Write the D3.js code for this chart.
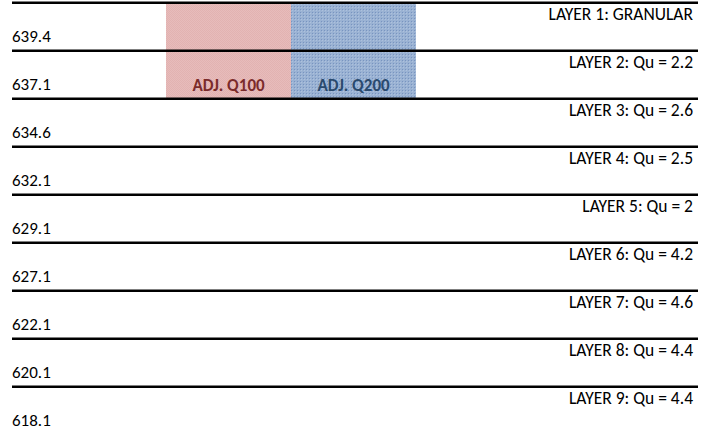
<!DOCTYPE html>
<html><head><meta charset="utf-8">
<script src="https://cdn.jsdelivr.net/npm/d3@7"></script>
<style>
html,body{margin:0;padding:0;background:#fff;}
text{font-family:Carlito, Calibri, Lato, sans-serif;}
</style></head>
<body><svg id="c" width="712" height="432"></svg>
<script>
const layers = ["LAYER 1","LAYER 2","LAYER 3","LAYER 4","LAYER 5","LAYER 6","LAYER 7","LAYER 8","LAYER 9"];
const layerLabels = ["LAYER 1: GRANULAR","LAYER 2: Qu = 2.2","LAYER 3: Qu = 2.6","LAYER 4: Qu = 2.5","LAYER 5: Qu = 2","LAYER 6: Qu = 4.2","LAYER 7: Qu = 4.6","LAYER 8: Qu = 4.4","LAYER 9: Qu = 4.4"];
const bottomElevations = [639.4, 637.1, 634.6, 632.1, 629.1, 627.1, 622.1, 620.1, 618.1];
const seriesNames = ["ADJ. Q100","ADJ. Q200"];
const seriesTopLayer = ["LAYER 1","LAYER 1"];
const seriesBottomLayer = ["LAYER 2","LAYER 2"];

const svg = d3.select("#c");
const defs = svg.append("defs");
const pp = defs.append("pattern").attr("id","pinkPat").attr("width",2).attr("height",2).attr("patternUnits","userSpaceOnUse");
pp.append("rect").attr("width",2).attr("height",2).attr("fill","#e7bcbb");
pp.append("rect").attr("width",1).attr("height",1).attr("fill","#e2b2b1");
pp.append("rect").attr("x",1).attr("y",1).attr("width",1).attr("height",1).attr("fill","#e2b2b1");
const bp = defs.append("pattern").attr("id","bluePat").attr("width",3).attr("height",3).attr("patternUnits","userSpaceOnUse");
bp.append("rect").attr("width",3).attr("height",3).attr("fill","#9ab2d3");
bp.append("rect").attr("width",1).attr("height",1).attr("fill","#7894c0");
bp.append("rect").attr("x",1).attr("y",1).attr("width",1).attr("height",1).attr("fill","#adc1dd");

const y = d3.scaleBand().domain(layers).range([2.7, 2.7 + 48 * layers.length]).paddingInner(0).paddingOuter(0);
const x = d3.scaleBand().domain(seriesNames).range([166, 416]).padding(0);
const fills = ["url(#pinkPat)","url(#bluePat)"];
const labelColors = ["#7b2b2b","#2a4a6e"];

svg.selectAll("rect.s").data(seriesNames).join("rect").attr("class","s")
  .attr("x", d => x(d)).attr("width", x.bandwidth())
  .attr("y", (d,i) => y(seriesTopLayer[i]))
  .attr("height", (d,i) => y(seriesBottomLayer[i]) + y.bandwidth() - y(seriesTopLayer[i]))
  .attr("fill", (d,i) => fills[i]);

svg.selectAll("text.s").data(seriesNames).join("text").attr("class","s")
  .attr("x", d => x(d) + x.bandwidth()/2)
  .attr("y", (d,i) => y(seriesBottomLayer[i]) + 40)
  .attr("text-anchor","middle").attr("font-weight","bold").attr("font-size","17px")
  .attr("fill",(d,i)=>labelColors[i]).text(d => d);

svg.selectAll("line.b").data(layers).join("line").attr("class","b")
  .attr("x1", 12).attr("x2", 698)
  .attr("y1", d => y(d)).attr("y2", d => y(d))
  .attr("stroke","#000").attr("stroke-width",2.6);

svg.selectAll("text.r").data(layers).join("text").attr("class","r")
  .attr("x", 693).attr("y", d => y(d) + 17.5)
  .attr("text-anchor","end").attr("font-size","17.5px").attr("fill","#000")
  .text((d,i) => layerLabels[i]);

svg.selectAll("text.l").data(layers).join("text").attr("class","l")
  .attr("x", 12).attr("y", d => y(d) + y.bandwidth() - 9)
  .attr("font-size","17px").attr("fill","#000")
  .text((d,i) => bottomElevations[i].toFixed(1));
</script></body></html>
